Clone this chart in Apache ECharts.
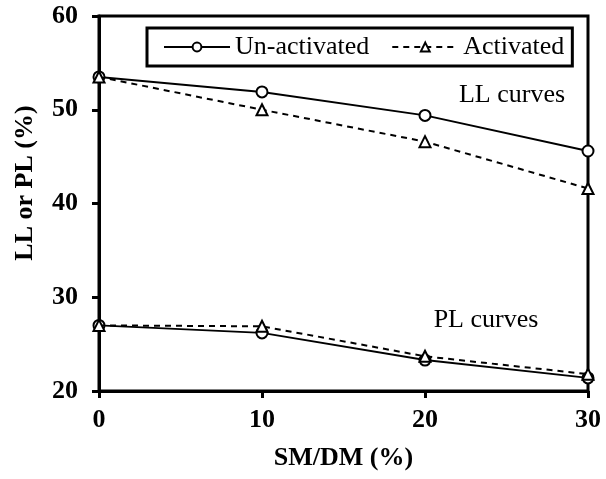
<!DOCTYPE html>
<html>
<head>
<meta charset="utf-8">
<script src="https://cdn.jsdelivr.net/npm/echarts@6/dist/echarts.min.js"></script>
<style>html,body{margin:0;padding:0;background:#fff}#c{width:606px;height:479px}</style>
</head>
<body>
<div id="c"></div>
<script>
var xValues = [0, 10, 20, 30];
var llUnactivated = [53.5, 51.9, 49.4, 45.6];
var llActivated = [53.5, 50.0, 46.6, 41.6];
var plUnactivated = [27.0, 26.2, 23.3, 21.4];
var plActivated = [27.0, 26.9, 23.7, 21.8];
var xTicks = [0, 10, 20, 30];
var yTicks = [20, 30, 40, 50, 60];
var seriesNames = ['Un-activated', 'Activated'];

var FONT = '"Liberation Serif", "Times New Roman", serif';
function pairs(xs, ys) { return xs.map(function (x, i) { return [x, ys[i]]; }); }

function mkSeries(name, data, dashed, sym) {
  return {
    name: name, type: 'line', data: data,
    symbol: sym, symbolSize: sym === 'triangle' ? 11 : 11,
    lineStyle: { color: '#000', width: 2, type: dashed ? [6, 5] : 'solid' },
    itemStyle: { color: '#fff', borderColor: '#000', borderWidth: 2 },
    emphasis: { disabled: true }, z: dashed ? 3 : 2
  };
}

var chart = echarts.init(document.getElementById('c'), null, { renderer: 'canvas' });
chart.setOption({
  animation: false,
  backgroundColor: '#fff',
  grid: { left: 99, right: 18, top: 16, bottom: 88, show: true, borderColor: '#000', borderWidth: 3, backgroundColor: 'transparent' },
  legend: {
    data: seriesNames, left: 147, top: 28, orient: 'horizontal',
    borderColor: '#000', borderWidth: 3, padding: [6, 8, 6, 16],
    itemWidth: 66, itemHeight: 11, itemGap: 22,
    textStyle: { fontFamily: FONT, fontSize: 26, color: '#000' }
  },
  xAxis: {
    type: 'value', min: xTicks[0], max: xTicks[xTicks.length - 1], interval: 10,
    splitLine: { show: false },
    axisLine: { lineStyle: { color: '#000', width: 3 } },
    axisTick: { inside: false, length: 7, lineStyle: { color: '#000', width: 3 } },
    axisLabel: { margin: 16, fontFamily: FONT, fontSize: 26, fontWeight: 'bold', color: '#000' },
    name: 'SM/DM (%)', nameLocation: 'middle', nameGap: 54,
    nameTextStyle: { fontFamily: FONT, fontSize: 26, fontWeight: 'bold', color: '#000' }
  },
  yAxis: {
    type: 'value', min: yTicks[0], max: yTicks[yTicks.length - 1], interval: 10,
    splitLine: { show: false },
    axisLine: { lineStyle: { color: '#000', width: 3 } },
    axisTick: { inside: false, length: 7, lineStyle: { color: '#000', width: 3 } },
    axisLabel: { margin: 21, fontFamily: FONT, fontSize: 26, fontWeight: 'bold', color: '#000' }
  },
  graphic: [
    { type: 'text', x: 25, y: 183, rotation: Math.PI / 2, style: { text: 'LL or PL (%)', fontFamily: FONT, fontSize: 26, fontWeight: 'bold', fill: '#000', textAlign: 'center', textVerticalAlign: 'middle' } },
    { type: 'text', x: 512, y: 95, style: { text: 'LL curves', fontFamily: FONT, fontSize: 26, fill: '#000', textAlign: 'center', textVerticalAlign: 'middle' } },
    { type: 'text', x: 486, y: 320, style: { text: 'PL curves', fontFamily: FONT, fontSize: 26, fill: '#000', textAlign: 'center', textVerticalAlign: 'middle' } }
  ],
  series: [
    mkSeries(seriesNames[0], pairs(xValues, llUnactivated), false, 'circle'),
    mkSeries(seriesNames[1], pairs(xValues, llActivated), true, 'triangle'),
    mkSeries(seriesNames[0], pairs(xValues, plUnactivated), false, 'circle'),
    mkSeries(seriesNames[1], pairs(xValues, plActivated), true, 'triangle')
  ]
});
</script>
</body>
</html>
